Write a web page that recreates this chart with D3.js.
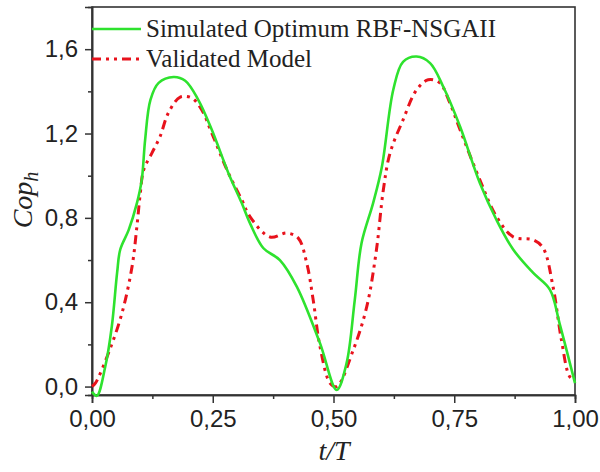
<!DOCTYPE html>
<html>
<head>
<meta charset="utf-8">
<script src="https://cdn.jsdelivr.net/npm/d3@7"></script>
<style>
  body { margin: 0; background: #fff; }
  svg { display: block; }
  .tick text { font-family: "Liberation Sans", Arial, sans-serif; font-size: 24px; fill: #222; }
  .legend text { font-family: "Liberation Serif", "Times New Roman", serif; font-size: 25px; fill: #222; }
  .title { font-family: "Liberation Serif", "Times New Roman", serif; font-style: italic; font-size: 28px; fill: #222; }
</style>
</head>
<body>
<svg width="600" height="472"></svg>
<script>
// t/T values and Cop_h
var simT   = [0, 0.01, 0.0275, 0.041, 0.052, 0.0585, 0.076, 0.093, 0.103, 0.110, 0.121, 0.138, 0.169, 0.193, 0.22, 0.248, 0.2825, 0.31, 0.327, 0.355, 0.389, 0.424, 0.472, 0.5066, 0.527, 0.544, 0.558, 0.582, 0.6, 0.624, 0.644, 0.672, 0.70, 0.727, 0.762, 0.803, 0.8375, 0.872, 0.913, 0.948, 0.968, 1.0];
var simCop = [-0.024, -0.044, 0.095, 0.285, 0.54, 0.65, 0.743, 0.87, 0.98, 1.17, 1.36, 1.44, 1.468, 1.45, 1.36, 1.218, 1.012, 0.87, 0.775, 0.656, 0.60, 0.474, 0.206, -0.016, 0.11, 0.41, 0.68, 0.87, 1.04, 1.41, 1.54, 1.565, 1.534, 1.423, 1.233, 0.965, 0.79, 0.65, 0.54, 0.46, 0.30, 0.016];

var valT   = [0, 0.007, 0.034, 0.062, 0.083, 0.093, 0.1, 0.107, 0.124, 0.141, 0.158, 0.1826, 0.207, 0.227, 0.248, 0.2825, 0.31, 0.327, 0.3687, 0.403, 0.427, 0.4446, 0.458, 0.472, 0.493, 0.5066, 0.541, 0.569, 0.589, 0.603, 0.617, 0.644, 0.672, 0.696, 0.72, 0.741, 0.762, 0.803, 0.8375, 0.872, 0.913, 0.934, 0.9545, 0.972, 0.989, 1.0];
var valCop = [0.0, 0.016, 0.158, 0.348, 0.57, 0.76, 0.917, 1.028, 1.107, 1.186, 1.297, 1.373, 1.368, 1.313, 1.202, 1.012, 0.886, 0.806, 0.709, 0.728, 0.704, 0.585, 0.41, 0.19, 0.016, 0.0, 0.174, 0.38, 0.65, 0.93, 1.107, 1.265, 1.407, 1.455, 1.44, 1.344, 1.218, 0.98, 0.806, 0.71, 0.696, 0.657, 0.474, 0.22, 0.047, 0.03];

var xMajor = [0, 0.25, 0.5, 0.75, 1.0];
var xMinor = [0.125, 0.375, 0.625, 0.875];
var yMajor = [0, 0.4, 0.8, 1.2, 1.6];
var yMinor = [0.2, 0.6, 1.0, 1.4];
var seriesNames = ["Simulated Optimum RBF-NSGAII", "Validated Model"];

var svg = d3.select("svg");
var plotL = 92, plotR = 575, plotT = 7, plotB = 395;

var x = d3.scaleLinear().domain([0, 1]).range([plotL, plotR]);
var y = d3.scaleLinear().domain([-0.04, 1.8]).range([plotB, plotT]);

var comma = function(n){ return function(d){ return d3.format("." + n + "f")(d).replace(".", ","); }; };

// frame
svg.append("rect")
  .attr("x", plotL).attr("y", plotT)
  .attr("width", plotR - plotL).attr("height", plotB - plotT)
  .attr("fill", "none").attr("stroke", "#333").attr("stroke-width", 1.6);

// axes
svg.append("g").attr("transform", "translate(0," + plotB + ")")
  .call(d3.axisBottom(x).tickValues(xMajor).tickSize(8).tickPadding(7).tickFormat(comma(2)));
svg.append("g").attr("transform", "translate(0," + plotB + ")")
  .call(d3.axisBottom(x).tickValues(xMinor).tickSize(4).tickFormat(""));
svg.append("g").attr("transform", "translate(" + plotL + ",0)")
  .call(d3.axisLeft(y).tickValues(yMajor).tickSize(7).tickPadding(7).tickFormat(comma(1)));
svg.append("g").attr("transform", "translate(" + plotL + ",0)")
  .call(d3.axisLeft(y).tickValues(yMinor).tickSize(4).tickFormat(""));

svg.selectAll(".domain").attr("stroke", "#333").attr("stroke-width", 1.6);
svg.selectAll(".tick line").attr("stroke", "#333").attr("stroke-width", 1.5);

// curves
var line = d3.line()
  .x(function(d){ return x(d[0]); })
  .y(function(d){ return y(d[1]); })
  .curve(d3.curveCatmullRom.alpha(0.5));

svg.append("path")
  .datum(d3.zip(valT, valCop))
  .attr("d", line)
  .attr("fill", "none").attr("stroke", "#e8121c").attr("stroke-width", 3)
  .attr("stroke-dasharray", "9,5,3,5,3,5");

svg.append("path")
  .datum(d3.zip(simT, simCop))
  .attr("d", line)
  .attr("fill", "none").attr("stroke", "#2ee22e").attr("stroke-width", 2.6);

// legend
var legend = svg.append("g").attr("class", "legend");
var legY = [29, 59];
var legStyle = [
  { stroke: "#2ee22e", dash: null, w: 2.6 },
  { stroke: "#e8121c", dash: "9,5,3,5,3,5", w: 3 }
];
seriesNames.forEach(function(name, i){
  legend.append("line")
    .attr("x1", 92).attr("x2", 141)
    .attr("y1", legY[i]).attr("y2", legY[i])
    .attr("stroke", legStyle[i].stroke).attr("stroke-width", legStyle[i].w)
    .attr("stroke-dasharray", legStyle[i].dash);
  legend.append("text")
    .attr("x", 146).attr("y", legY[i] + 8)
    .text(name);
});

// axis titles
svg.append("text").attr("class", "title")
  .attr("x", 334).attr("y", 460)
  .attr("text-anchor", "middle")
  .text("t/T");

var yt = svg.append("text").attr("class", "title")
  .attr("transform", "translate(32,200) rotate(-90)")
  .attr("text-anchor", "middle");
yt.append("tspan").text("Cop");
yt.append("tspan").attr("dy", 6).attr("font-size", 20).text("h");
</script>
</body>
</html>
